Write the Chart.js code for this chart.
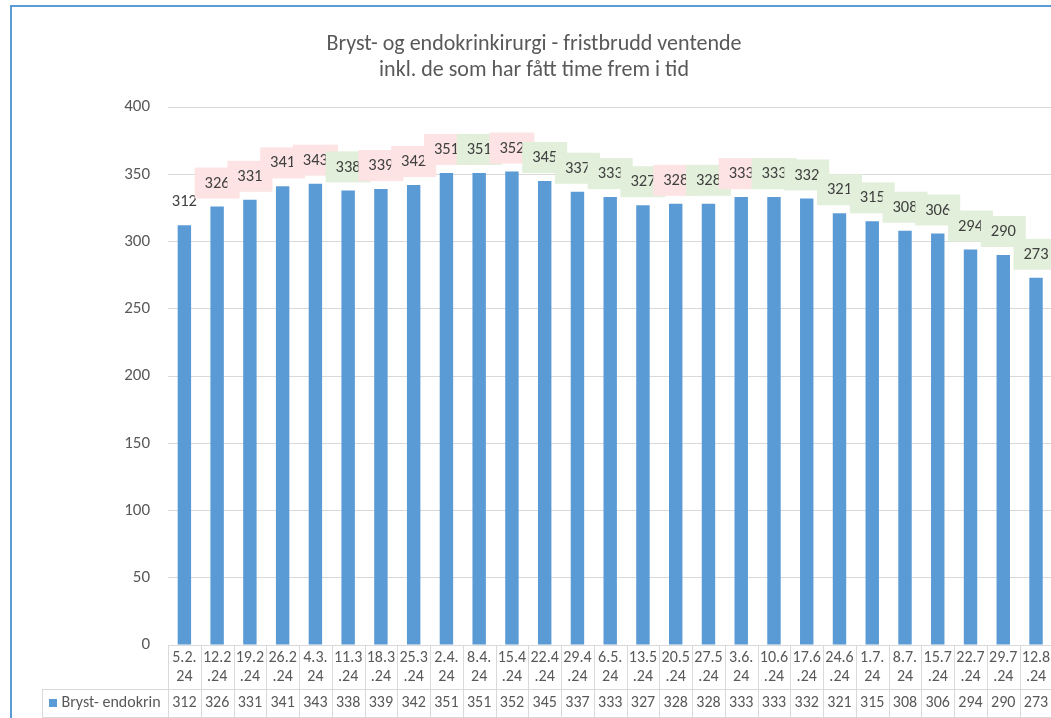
<!DOCTYPE html>
<html>
<head>
<meta charset="utf-8">
<script src="https://cdn.jsdelivr.net/npm/chart.js@4/dist/chart.umd.min.js"></script>
<style>
  html, body { margin: 0; padding: 0; background: #fff; overflow: hidden; width: 1051px; height: 718px; }
  #wrap { position: absolute; left: 0; top: 0; width: 1080px; height: 740px; }
  #frame { position: absolute; left: 10px; top: 5px; width: 1100px; height: 800px; border: 2px solid #5B9BD5; box-sizing: border-box; pointer-events: none; }
  canvas { position: absolute; left: 0; top: 0; }
</style>
</head>
<body>
<div id="wrap">
  <canvas id="c" width="1080" height="740"></canvas>
  <div id="frame"></div>
</div>
<script>
const titleLines = ["Bryst- og endokrinkirurgi - fristbrudd ventende", "inkl. de som har fått time frem i tid"];
const seriesName = "Bryst- endokrin";
const categories = ["5.2.24","12.2.24","19.2.24","26.2.24","4.3.24","11.3.24","18.3.24","25.3.24","2.4.24","8.4.24","15.4.24","22.4.24","29.4.24","6.5.24","13.5.24","20.5.24","27.5.24","3.6.24","10.6.24","17.6.24","24.6.24","1.7.24","8.7.24","15.7.24","22.7.24","29.7.24","12.8.24"];
const values = [312,326,331,341,343,338,339,342,351,351,352,345,337,333,327,328,328,333,333,332,321,315,308,306,294,290,273];
const yTicks = [0,50,100,150,200,250,300,350,400];

const FONT = "Carlito, Calibri, Lato, sans-serif";
const BAR = "#5B9BD5";
const GRID = "#D9D9D9";
const TXT = "#595959";
const UP = "#FDE3E3";
const DOWN = "#E2EFDA";

const titlePlugin = {
  id: 'titleDraw',
  afterDraw(chart) {
    const ctx = chart.ctx;
    ctx.save();
    ctx.fillStyle = TXT;
    ctx.font = "22px " + FONT;
    ctx.textAlign = "center";
    ctx.textBaseline = "middle";
    ctx.fillText(titleLines[0], 534, 44);
    ctx.fillText(titleLines[1], 534, 70);
    ctx.restore();
  }
};

const labelPlugin = {
  id: 'boxLabels',
  afterDatasetsDraw(chart) {
    const ctx = chart.ctx;
    const meta = chart.getDatasetMeta(0);
    ctx.save();
    ctx.font = "16.5px " + FONT;
    ctx.textAlign = "center";
    ctx.textBaseline = "middle";
    meta.data.forEach((bar, i) => {
      const v = values[i];
      const top = bar.y;
      if (i > 0) {
        ctx.fillStyle = v > values[i - 1] ? UP : DOWN;
        ctx.fillRect(bar.x - 22.5, top - 39, 45, 31);
      }
      ctx.fillStyle = "#404040";
      ctx.fillText(String(v), bar.x, top - 23);
    });
    ctx.restore();
  }
};

const tablePlugin = {
  id: 'dataTable',
  afterDraw(chart) {
    const ctx = chart.ctx;
    const xs = chart.scales.x;
    const area = chart.chartArea;
    const n = categories.length;
    const cw = (area.right - area.left) / n;
    const y0 = area.bottom, y1 = 689, y2 = 717;
    const legendLeft = 42;
    ctx.save();
    ctx.strokeStyle = GRID;
    ctx.lineWidth = 1;
    ctx.beginPath();
    ctx.moveTo(area.left, y0 + 0.5); ctx.lineTo(area.right + 40, y0 + 0.5);
    ctx.moveTo(legendLeft, y1 + 0.5); ctx.lineTo(area.right + 40, y1 + 0.5);
    ctx.moveTo(legendLeft, y2 + 0.5); ctx.lineTo(area.right + 40, y2 + 0.5);
    ctx.moveTo(legendLeft + 0.5, y1); ctx.lineTo(legendLeft + 0.5, y2);
    for (let i = 0; i <= n; i++) {
      const bx = Math.round(xs.getPixelForValue(i) - cw / 2) + 0.5;
      ctx.moveTo(bx, y0); ctx.lineTo(bx, y2);
    }
    ctx.stroke();

    ctx.fillStyle = TXT;
    ctx.font = "16px " + FONT;
    ctx.textAlign = "center";
    ctx.textBaseline = "middle";
    categories.forEach((c, i) => {
      const x = xs.getPixelForValue(i);
      ctx.fillText(c.slice(0, 4), x, 658);
      ctx.fillText(c.slice(4), x, 677);
      ctx.fillText(String(values[i]), x, 703);
    });
    ctx.fillStyle = BAR;
    ctx.fillRect(49, 699, 8, 8);
    ctx.fillStyle = TXT;
    ctx.textAlign = "left";
    ctx.fillText(seriesName, 61.5, 703);
    ctx.restore();
  }
};

new Chart(document.getElementById('c'), {
  type: 'bar',
  data: {
    labels: categories,
    datasets: [{
      label: seriesName,
      data: values,
      backgroundColor: BAR,
      borderWidth: 0,
      barPercentage: 0.41,
      categoryPercentage: 1.0
    }]
  },
  options: {
    responsive: false,
    devicePixelRatio: 1,
    animation: false,
    layout: { padding: { top: 107, left: 0, right: 1080 - 1052.4, bottom: 740 - 645 } },
    plugins: { legend: { display: false }, title: { display: false }, tooltip: { enabled: false } },
    scales: {
      x: { display: false },
      y: {
        min: 0, max: 400,
        afterBuildTicks(scale) { scale.ticks = yTicks.map(v => ({ value: v })); },
        afterFit(scale) { scale.width = 168; },
        ticks: { color: TXT, font: { family: FONT, size: 17 }, padding: 18 },
        grid: { color: GRID, drawTicks: false, lineWidth: 1 },
        border: { display: false }
      }
    }
  },
  plugins: [labelPlugin, tablePlugin, titlePlugin]
});
</script>
</body>
</html>
